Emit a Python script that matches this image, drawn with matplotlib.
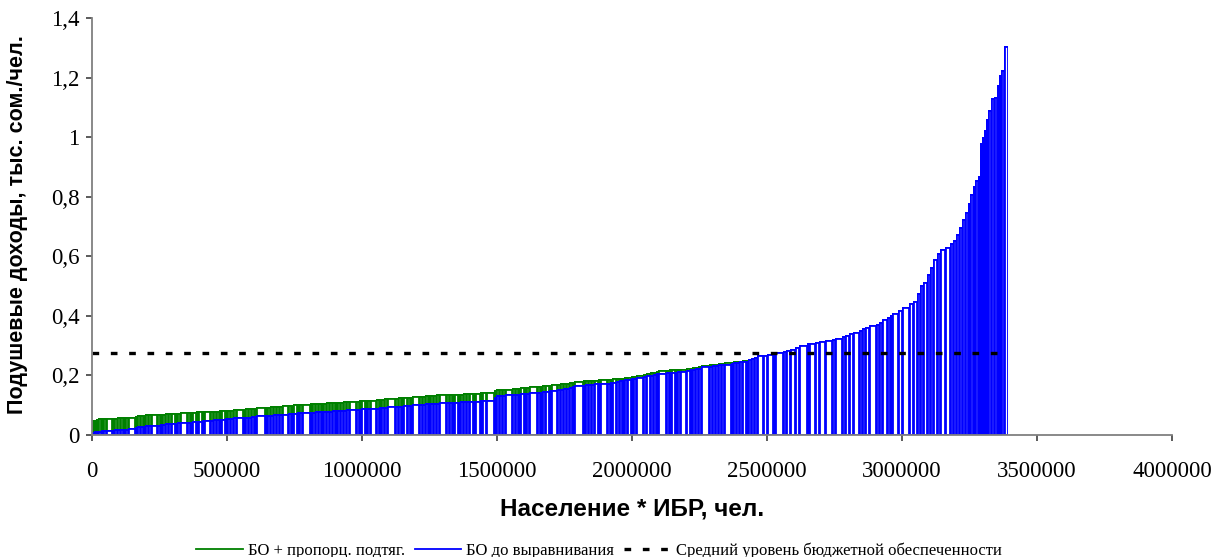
import numpy as np
import matplotlib.pyplot as plt
from matplotlib.lines import Line2D
from matplotlib.ticker import FuncFormatter

# population of each unit, thousands of people (units sorted by revenue per capita)
pop_k = [6, 9, 7, 12, 8, 10, 22, 9, 11, 8, 14, 7, 10, 25, 9, 11,
         10, 8, 13, 9, 24, 11, 7, 12, 10, 9, 15, 8, 11, 28, 10, 9, 12, 8, 14, 10, 22, 9, 11, 13, 8, 12, 9, 11,
         12, 9, 26, 10, 8, 13, 11, 9, 30, 10, 12, 8, 14, 9, 11, 24, 10, 9, 13, 8, 12, 27, 10, 11, 9, 13, 8, 10,
         12, 9, 11, 8, 11,
         10, 14, 9, 28, 11, 8, 12, 10, 9, 22, 13, 8, 11, 10, 30, 9, 12, 8, 14, 10, 11, 25, 9, 13, 10, 8, 12, 11,
         9, 27, 10, 12, 8, 13, 9, 11, 10, 12, 14, 9, 18,
         9, 12, 30, 10, 8, 13, 11, 26, 9, 12, 10, 14, 8, 11, 28, 10, 9, 12, 13, 8, 24, 11, 10, 9, 13, 12, 8, 30,
         10, 11, 9, 14, 12, 8, 26, 10, 9, 13, 11, 12, 10, 9, 14, 8, 12, 27, 11, 14,
         10, 12, 9, 28, 11, 8, 13, 10, 9, 24, 12, 11, 8, 14, 10, 30, 9, 12, 11, 13, 8, 26, 10, 12, 9, 11, 14, 8,
         12, 10, 11, 23,
         14, 22, 10, 28, 12, 16, 18, 12, 30, 8, 24, 14, 20, 26, 12, 28, 10, 14, 16, 22, 12, 10, 14, 26, 12, 10,
         18, 12, 8, 22, 14, 26, 16,
         14, 11, 12, 14, 12, 11, 13, 13, 19, 18, 12, 10, 12, 10, 11, 11, 8, 11, 9, 9, 9, 6, 7, 7, 10, 10, 10, 10,
         10, 7, 9, 17]

# revenue per capita before equalization, thousand som / person
bo_before = [0.010, 0.012, 0.013, 0.015, 0.016, 0.017, 0.018, 0.018, 0.019, 0.019, 0.020, 0.020, 0.021, 0.022,
             0.026, 0.030,
             0.031, 0.031, 0.032, 0.034, 0.035, 0.035, 0.036, 0.038, 0.039, 0.040, 0.040, 0.041, 0.043, 0.044,
             0.044, 0.045, 0.047, 0.048, 0.048, 0.050, 0.051, 0.052, 0.053, 0.053, 0.054, 0.055, 0.056, 0.057,
             0.058, 0.059, 0.060, 0.061, 0.061, 0.062, 0.064, 0.065, 0.066, 0.067, 0.067, 0.068, 0.069, 0.070,
             0.071, 0.072, 0.073, 0.074, 0.075, 0.076, 0.076, 0.077, 0.078, 0.078, 0.079, 0.080, 0.080, 0.081,
             0.082, 0.082, 0.083, 0.083, 0.084,
             0.085, 0.085, 0.086, 0.087, 0.087, 0.088, 0.089, 0.089, 0.090, 0.091, 0.092, 0.093, 0.094, 0.095,
             0.096, 0.097, 0.098, 0.099, 0.100, 0.101, 0.102, 0.103, 0.104, 0.105, 0.106, 0.107, 0.108, 0.108,
             0.109, 0.110, 0.110, 0.111, 0.111, 0.112, 0.112, 0.113, 0.113, 0.114, 0.114, 0.115, 0.115,
             0.116, 0.117, 0.118, 0.128, 0.133, 0.134, 0.135, 0.136, 0.137, 0.138, 0.139, 0.140, 0.141, 0.142,
             0.143, 0.145, 0.146, 0.147, 0.149, 0.150, 0.151, 0.153, 0.155, 0.157, 0.159, 0.161, 0.165, 0.168,
             0.169, 0.170, 0.171, 0.172, 0.173, 0.174, 0.175, 0.176, 0.177, 0.179, 0.181, 0.183, 0.185, 0.187,
             0.189, 0.191, 0.193, 0.196, 0.198, 0.201,
             0.203, 0.205, 0.207, 0.209, 0.211, 0.212, 0.213, 0.213, 0.214, 0.216, 0.218, 0.220, 0.222, 0.224,
             0.226, 0.230, 0.233, 0.235, 0.236, 0.237, 0.238, 0.240, 0.242, 0.244, 0.246, 0.247, 0.249, 0.250,
             0.254, 0.258, 0.262, 0.268,
             0.270, 0.273, 0.276, 0.279, 0.282, 0.285, 0.290, 0.296, 0.302, 0.308, 0.310, 0.313, 0.316, 0.319,
             0.322, 0.326, 0.331, 0.336, 0.341, 0.347, 0.352, 0.358, 0.362, 0.368, 0.374, 0.380, 0.388, 0.396,
             0.403, 0.410, 0.418, 0.430, 0.442,
             0.450, 0.476, 0.504, 0.515, 0.540, 0.565, 0.590, 0.610, 0.625, 0.632, 0.645, 0.655, 0.675, 0.700,
             0.725, 0.750, 0.780, 0.810, 0.835, 0.856, 0.870, 0.980, 1.000, 1.024, 1.060, 1.090, 1.130, 1.135,
             1.175, 1.210, 1.225, 1.305]

# with proportional pull-up; the units after this list get no pull-up
bo_pulled_head = [0.050, 0.052, 0.054, 0.056, 0.057, 0.057, 0.058, 0.058, 0.058, 0.059, 0.059, 0.060, 0.061,
                  0.062, 0.065, 0.067,
                  0.068, 0.068, 0.069, 0.070, 0.070, 0.071, 0.072, 0.072, 0.073, 0.074, 0.074, 0.075, 0.075,
                  0.076, 0.077, 0.077, 0.078, 0.079, 0.079, 0.080, 0.081, 0.081, 0.082, 0.082, 0.083, 0.083,
                  0.084, 0.084,
                  0.085, 0.086, 0.087, 0.088, 0.089, 0.090, 0.091, 0.092, 0.093, 0.094, 0.095, 0.096, 0.097,
                  0.098, 0.099, 0.100, 0.101, 0.102, 0.103, 0.104, 0.105, 0.105, 0.106, 0.107, 0.107, 0.108,
                  0.109, 0.109, 0.110, 0.110, 0.111, 0.111, 0.112,
                  0.112, 0.113, 0.114, 0.114, 0.115, 0.116, 0.117, 0.117, 0.118, 0.119, 0.120, 0.121, 0.122,
                  0.123, 0.124, 0.125, 0.126, 0.127, 0.127, 0.128, 0.129, 0.130, 0.131, 0.132, 0.133, 0.134,
                  0.134, 0.135, 0.136, 0.136, 0.137, 0.137, 0.138, 0.138, 0.139, 0.139, 0.140, 0.140, 0.141,
                  0.141, 0.142,
                  0.143, 0.144, 0.145, 0.150, 0.153, 0.154, 0.155, 0.156, 0.157, 0.158, 0.159, 0.160, 0.161,
                  0.162, 0.163, 0.165, 0.166, 0.167, 0.168, 0.169, 0.170, 0.172, 0.173, 0.174, 0.176, 0.177,
                  0.179, 0.182, 0.183, 0.183, 0.184, 0.185, 0.186, 0.187, 0.188, 0.189, 0.189, 0.190, 0.191,
                  0.192, 0.193, 0.194, 0.195, 0.197, 0.199, 0.202, 0.204, 0.207,
                  0.210, 0.213, 0.215, 0.218, 0.219, 0.220, 0.221, 0.221, 0.222, 0.223, 0.224, 0.226, 0.228,
                  0.229, 0.231, 0.234, 0.237, 0.239, 0.240, 0.241, 0.242, 0.244, 0.245, 0.247, 0.249, 0.250,
                  0.252, 0.253, 0.256, 0.259, 0.263, 0.268]

avg_level = 0.275

x_ticks = [0, 500000, 1000000, 1500000, 2000000, 2500000, 3000000, 3500000, 4000000]
y_ticks = [0, 0.2, 0.4, 0.6, 0.8, 1.0, 1.2, 1.4]

labels = ['БО + пропорц. подтяг.', 'БО до выравнивания', 'Средний уровень бюджетной обеспеченности']

# ---------------------------------------------------------------------------
pop = np.array(pop_k) * 1000.0
left = np.concatenate([[0], np.cumsum(pop)[:-1]])
bo_pulled = bo_pulled_head + bo_before[len(bo_pulled_head):]
total_pop = pop.sum()

fig = plt.figure(figsize=(12.19, 5.57), dpi=100)
ax = fig.add_axes([92 / 1219, 1 - 435 / 557, 1080 / 1219, 417 / 557])

# outlines are clipped to the bar itself, so the border sits inside (Excel-like look)
green = ax.bar(left, bo_pulled, pop, align='edge', facecolor='white', edgecolor='#008000',
               linewidth=2.0, zorder=2)
blue = ax.bar(left, bo_before, pop, align='edge', facecolor='white', edgecolor='#0000ff',
              linewidth=2.0, zorder=3)
for p in list(green) + list(blue):
    p.set_clip_path(p)

ax.plot([0, total_pop], [avg_level, avg_level], color='black', lw=2.4, ls=(0, (2, 3.5)), zorder=4)

ax.set_xlim(0, 4000000)
ax.set_ylim(0, 1.4)
ax.set_xticks(x_ticks)
ax.set_yticks(y_ticks)
ax.xaxis.set_major_formatter(FuncFormatter(lambda v, p: '%d' % v))
ax.yaxis.set_major_formatter(FuncFormatter(lambda v, p: ('%g' % round(v, 2)).replace('.', ',')))

for s in ['top', 'right']:
    ax.spines[s].set_visible(False)
for s in ['left', 'bottom']:
    ax.spines[s].set_color('#808080')
    ax.spines[s].set_linewidth(1.3)
    ax.spines[s].set_zorder(5)

ax.tick_params(direction='out', length=4, width=1.2, color='#404040', labelsize=16.5)
ax.tick_params(axis='x', pad=15)
ax.tick_params(axis='y', pad=5)
for t in ax.get_xticklabels() + ax.get_yticklabels():
    t.set_fontfamily('Liberation Serif')

ax.set_xlabel('Население * ИБР, чел.', fontfamily='Liberation Sans', fontweight='bold', fontsize=17.5,
              va='center')
ax.xaxis.set_label_coords(0.5, (435 - 509) / 417)
ax.set_ylabel('Подушевые доходы, тыс. сом./чел.', fontfamily='Liberation Sans', fontweight='bold',
              fontsize=15.5, va='center')
ax.yaxis.set_label_coords((18 - 92) / 1080, (435 - 225) / 417)

handles = [Line2D([], [], color='#008000', lw=1.3),
           Line2D([], [], color='#0000ff', lw=1.3),
           Line2D([], [], color='black', lw=2.4, ls=(0, (2, 3.5)))]
fig.legend(handles, labels, loc='center', bbox_to_anchor=(599 / 1219, 1 - 551 / 557), ncol=3, frameon=False,
           prop={'family': 'Liberation Serif', 'size': 12}, handlelength=2.8, handletextpad=0.3,
           columnspacing=0.6)

fig.savefig('out.png', dpi=100)
